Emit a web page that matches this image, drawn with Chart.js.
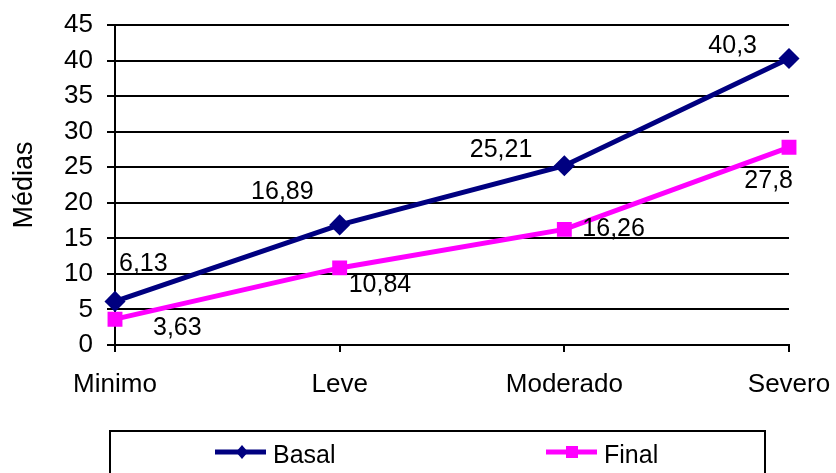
<!DOCTYPE html>
<html>
<head>
<meta charset="utf-8">
<script src="https://cdn.jsdelivr.net/npm/chart.js@4/dist/chart.umd.min.js"></script>
<style>
  html, body { margin: 0; padding: 0; background: #fff; }
  #wrap { width: 836px; height: 473px; position: relative; }
</style>
</head>
<body>
<div id="wrap"><canvas id="c" width="836" height="473"></canvas></div>
<script>
// Categories and series
const categories = ['Minimo', 'Leve', 'Moderado', 'Severo'];
const basalValues = [6.13, 16.89, 25.21, 40.3];
const finalValues = [3.63, 10.84, 16.26, 27.8];
const yTicks = [0, 5, 10, 15, 20, 25, 30, 35, 40, 45];

const FONT = '"Liberation Sans", Arial, sans-serif';

// Label placement (baseline offset from the point, alignment) per series
const labelPlacement = {
  Basal: [
    { dx: 4, dy: -30, align: 'left' },
    { dx: -26, dy: -26, align: 'right' },
    { dx: -32, dy: -9, align: 'right' },
    { dx: -32, dy: -5, align: 'right' }
  ],
  Final: [
    { dx: 38, dy: 16, align: 'left' },
    { dx: 9, dy: 24, align: 'left' },
    { dx: 18, dy: 7, align: 'left' },
    { dx: 4, dy: 41, align: 'right' }
  ]
};

const valueLabels = {
  id: 'valueLabels',
  afterDatasetsDraw(chart) {
    const ctx = chart.ctx;
    ctx.save();
    ctx.font = '25px ' + FONT;
    ctx.fillStyle = '#000';
    ctx.textBaseline = 'alphabetic';
    chart.data.datasets.forEach((ds, i) => {
      const meta = chart.getDatasetMeta(i);
      meta.data.forEach((pt, j) => {
        const p = labelPlacement[ds.label][j];
        ctx.textAlign = p.align;
        const txt = String(ds.data[j]).replace('.', ',');
        ctx.fillText(txt, pt.x + p.dx, pt.y + p.dy);
      });
    });
    ctx.restore();
  }
};

// Boxed legend under the plot
const boxLegend = {
  id: 'boxLegend',
  afterDraw(chart) {
    const ctx = chart.ctx;
    ctx.save();
    ctx.strokeStyle = '#000';
    ctx.lineWidth = 2;
    ctx.strokeRect(110, 431, 655, 60);
    ctx.font = '25px ' + FONT;
    ctx.textBaseline = 'alphabetic';
    ctx.textAlign = 'left';
    const items = [{ x: 215 }, { x: 546 }];
    chart.data.datasets.forEach((ds, i) => {
      const x = items[i].x, y = 452;
      ctx.strokeStyle = ds.borderColor;
      ctx.lineWidth = 5;
      ctx.beginPath();
      ctx.moveTo(x, y);
      ctx.lineTo(x + 51, y);
      ctx.stroke();
      ctx.fillStyle = ds.borderColor;
      ctx.beginPath();
      if (i === 0) {
        ctx.moveTo(x + 27, y - 7); ctx.lineTo(x + 33, y); ctx.lineTo(x + 27, y + 7); ctx.lineTo(x + 21, y);
        ctx.closePath(); ctx.fill();
      } else {
        ctx.fillRect(x + 20, y - 6, 12, 12);
      }
      ctx.fillStyle = '#000';
      ctx.fillText(ds.label, x + 58, 463);
    });
    ctx.restore();
  }
};

new Chart(document.getElementById('c'), {
  type: 'line',
  data: {
    labels: categories,
    datasets: [
      {
        label: 'Basal',
        data: basalValues,
        borderColor: '#000080',
        backgroundColor: '#000080',
        borderWidth: 5,
        pointStyle: 'rectRot',
        pointRadius: 7,
        pointHoverRadius: 7,
        tension: 0
      },
      {
        label: 'Final',
        data: finalValues,
        borderColor: '#FF00FF',
        backgroundColor: '#FF00FF',
        borderWidth: 5,
        pointStyle: 'rect',
        pointRadius: 7,
        pointHoverRadius: 7,
        tension: 0
      }
    ]
  },
  options: {
    responsive: false,
    animation: false,
    events: [],
    layout: { padding: { top: 25, right: 47, left: 0, bottom: 0 } },
    plugins: {
      legend: { display: false },
      tooltip: { enabled: false }
    },
    scales: {
      x: {
        offset: false,
        grid: { drawOnChartArea: false, drawTicks: true, tickLength: 7, color: '#000', lineWidth: 2 },
        border: { display: true, color: '#000', width: 2 },
        ticks: { color: '#000', font: { family: FONT, size: 26 }, padding: 17, maxRotation: 0, autoSkip: false },
        afterFit(scale) {
          scale.height = 128;
          scale.paddingLeft = 0;
          scale.paddingRight = 0;
        }
      },
      y: {
        min: 0,
        max: 45,
        afterBuildTicks(scale) { scale.ticks = yTicks.map(v => ({ value: v })); },
        grid: { color: '#000', lineWidth: 2, tickLength: 8, drawTicks: true },
        border: { display: true, color: '#000', width: 2 },
        ticks: { color: '#000', font: { family: FONT, size: 26 }, padding: 14 },
        title: { display: true, text: 'Médias', color: '#000', font: { family: FONT, size: 27 }, padding: { top: 8, bottom: 0 } },
        afterFit(scale) {
          scale.width = 115;
          scale.paddingTop = 0;
          scale.paddingBottom = 0;
        }
      }
    }
  },
  plugins: [valueLabels, boxLegend]
});
</script>
</body>
</html>
